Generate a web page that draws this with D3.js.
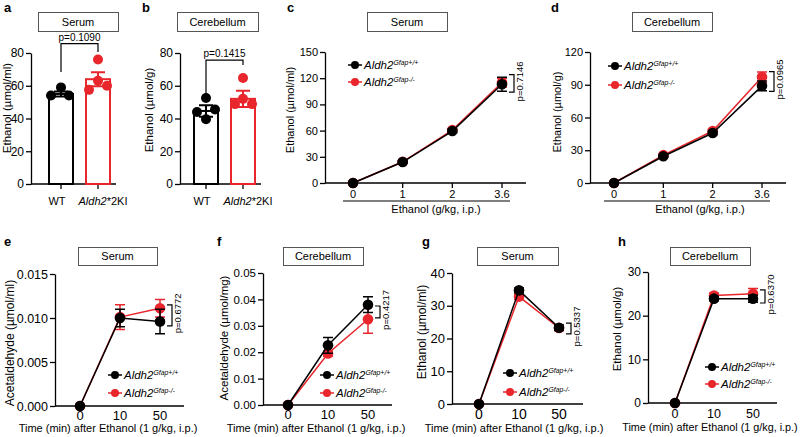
<!DOCTYPE html>
<html>
<head>
<meta charset="utf-8">
<script src="https://cdn.jsdelivr.net/npm/d3@7"></script>
<style>
body { margin: 0; background: #fff; }
svg { font-family: "Liberation Sans", Arial, sans-serif; }
</style>
</head>
<body>
<svg id="fig" width="800" height="437"></svg>
<script>
// ---- data ----
// a, b: bar charts (mean +/- sem, individual animals)
const barGroups = ["WT", "Aldh2*2KI"];
const aMean = [55, 64];
const aSem = [1.5, 4.3];
const aWTDots = [54, 59, 54];
const aKIDots = [76, 63, 57.5, 60];
const aP = "p=0.1090";
const bMean = [44.6, 52];
const bSem = [3.5, 5];
const bWTDots = [52.5, 44, 45.5, 39.5];
const bKIDots = [64.7, 52, 48.8, 48.8];
const bP = "p=0.1415";

// c, d: dose response
const doses = ["0", "1", "2", "3.6"];
const cWT = [0, 24, 59.5, 113];
const cWTSem = [0, 1.2, 2, 8];
const cKO = [0, 24.3, 60.5, 115];
const cKOSem = [0, 1, 2, 5];
const cP = "p=0.7146";
const dWT = [0, 24.5, 45.8, 89];
const dWTSem = [0, 1, 1.5, 4.5];
const dKO = [0, 25.5, 47.6, 97];
const dKOSem = [0, 1, 1.5, 4.6];
const dP = "p=0.0965";

// e-h: time course
const times = ["0", "10", "50"];
const eWT = [0, 0.0100, 0.0096];
const eWTSem = [0, 0.0010, 0.0014];
const eKO = [0, 0.0101, 0.0111];
const eKOSem = [0, 0.0014, 0.0010];
const eP = "p=0.6772";
const fWT = [0, 0.0226, 0.0380];
const fWTSem = [0, 0.0030, 0.0030];
const fKO = [0, 0.0195, 0.0325];
const fKOSem = [0, 0.0010, 0.0053];
const fP = "p=0.4217";
const gWT = [0, 34.7, 23.3];
const gWTSem = [0, 0.7, 0.8];
const gKO = [0, 32.8, 23.2];
const gKOSem = [0, 0.8, 0.8];
const gP = "p=0.5337";
const hWT = [0, 23.9, 23.9];
const hWTSem = [0, 0.5, 0.8];
const hKO = [0, 24.6, 25];
const hKOSem = [0, 0.6, 1.2];
const hP = "p=0.6370";

const RED = "#e8262b";
const svg = d3.select("#fig");

function letter(t, x, y) {
    svg.append("text").attr("x", x).attr("y", y)
        .attr("font-size", 13).attr("font-weight", "bold").text(t);
}

function titleBox(t, x, y, w, h) {
    svg.append("rect").attr("x", x + 0.5).attr("y", y + 0.5)
        .attr("width", w).attr("height", h)
        .attr("fill", "#fff").attr("stroke", "#555").attr("stroke-width", 1);
    svg.append("text").attr("x", x + w / 2).attr("y", y + h / 2 + 4)
        .attr("text-anchor", "middle").attr("font-size", 11).text(t);
}

function yAxis(g, y, x, ticks, fmt, fs) {
    const ax = g.append("g")
        .attr("transform", `translate(${x},0)`)
        .call(d3.axisLeft(y).tickValues(ticks).tickFormat(fmt)
            .tickSize(5).tickSizeOuter(0).tickPadding(2));
    ax.attr("font-family", null).attr("font-size", fs);
    ax.select(".domain").attr("stroke-width", 1.3);
    ax.selectAll(".tick line").attr("stroke-width", 1.3);
    ax.selectAll(".tick text").attr("fill", "#000");
}

function yTitle(g, t, x, y, fs) {
    g.append("text").attr("transform", `translate(${x},${y}) rotate(-90)`)
        .attr("text-anchor", "middle").attr("font-size", fs).text(t);
}

// italic gene name with optional plain suffix / superscript
function geneLabel(sel, sup, suffix, fs) {
    sel.append("tspan").attr("font-style", "italic").text("Aldh2");
    if (suffix) sel.append("tspan").text(suffix);
    if (sup) sel.append("tspan").attr("font-style", "italic")
        .attr("font-size", fs * 0.6).attr("dy", -fs * 0.38).text(sup);
}

// ---------- bar panels ----------
function barPanel(p) {
    const g = svg.append("g");
    const y = d3.scaleLinear().domain([0, p.max]).range(p.yRange);
    const x = d3.scalePoint().domain(barGroups).range(p.xRange);
    const y0 = y(0);

    yAxis(g, y, p.axisX, p.ticks, d3.format("d"), p.fs);
    g.append("line").attr("x1", p.axisX).attr("x2", p.xRange[1] + 18)
        .attr("y1", y0).attr("y2", y0).attr("stroke", "#000").attr("stroke-width", 1.3);
    g.selectAll(".xt").data(barGroups).join("line")
        .attr("x1", d => x(d)).attr("x2", d => x(d))
        .attr("y1", y0).attr("y2", y0 + 5).attr("stroke", "#000").attr("stroke-width", 1.3);

    const colors = ["#000", RED];
    const dots = [p.wtDots, p.kiDots];
    barGroups.forEach(function(grp, i) {
        const cx = x(grp);
        g.append("rect").attr("x", cx - 12).attr("y", y(p.mean[i]))
            .attr("width", 24).attr("height", y0 - y(p.mean[i]))
            .attr("fill", "#fff").attr("stroke", colors[i]).attr("stroke-width", 2);
        const hi = y(p.mean[i] + p.sem[i]), lo = y(p.mean[i] - p.sem[i]);
        g.append("path")
            .attr("d", `M${cx},${lo}V${hi}M${cx - 7},${hi}H${cx + 7}M${cx - 7},${lo}H${cx + 7}`)
            .attr("stroke", colors[i]).attr("stroke-width", 2).attr("fill", "none");
        g.selectAll(null).data(dots[i]).join("circle")
            .attr("cx", (d, j) => cx + p.jitter[i][j]).attr("cy", d => y(d))
            .attr("r", 5).attr("fill", colors[i]);
    });

    // category labels (set slightly apart, as in the original)
    g.append("text").attr("x", x("WT") - 4).attr("y", y0 + 21)
        .attr("text-anchor", "middle").attr("font-size", 11).text("WT");
    const lab = g.append("text").attr("x", x("Aldh2*2KI") + 5).attr("y", y0 + 21)
        .attr("text-anchor", "middle").attr("font-size", 11);
    geneLabel(lab, null, "*2KI", 11);

    // p bracket
    const x1 = x("WT"), x2 = x("Aldh2*2KI"), top = y(p.bracket[0]);
    g.append("path")
        .attr("d", `M${x1},${y(p.bracket[1])}V${top}H${x2}V${y(p.bracket[2])}`)
        .attr("stroke", "#000").attr("stroke-width", 1.2).attr("fill", "none");
    g.append("text").attr("x", (x1 + x2) / 2).attr("y", top - 3)
        .attr("text-anchor", "middle").attr("font-size", 10).text(p.pText);

    yTitle(g, p.ylab, p.ylabX, p.ylabY, 11.5);
}

// ---------- line panels ----------
function linePanel(p) {
    const g = svg.append("g");
    const y = d3.scaleLinear().domain([0, p.max]).range(p.yRange);
    const x = d3.scalePoint().domain(p.cats).range(p.xRange);
    const y0 = y(0);

    yAxis(g, y, p.axisX, p.ticks, p.fmt, p.fs);
    g.append("line").attr("x1", p.axisX).attr("x2", p.xRange[1] + 24)
        .attr("y1", y0).attr("y2", y0).attr("stroke", "#000").attr("stroke-width", 1.3);
    if (p.xTicks) {
        g.selectAll(".xt").data(p.cats).join("line")
            .attr("x1", d => x(d)).attr("x2", d => x(d))
            .attr("y1", y0).attr("y2", y0 + 5).attr("stroke", "#000").attr("stroke-width", 1.3);
    }
    g.selectAll(".xl").data(p.cats).join("text")
        .attr("x", d => x(d)).attr("y", y0 + p.xlabDy)
        .attr("text-anchor", "middle").attr("font-size", p.xfs).text(d => d);

    if (p.underline) {
        g.append("line").attr("x1", p.xRange[0] - 10).attr("x2", p.xRange[1] + 8)
            .attr("y1", y0 + 18).attr("y2", y0 + 18).attr("stroke", "#000").attr("stroke-width", 1.2);
    }
    g.append("text").attr("x", p.xTitleX).attr("y", p.xTitleY)
        .attr("text-anchor", "middle").attr("font-size", p.xtfs || 11).text(p.xTitle);

    const series = [
        {vals: p.ko, sem: p.koSem, color: RED},
        {vals: p.wt, sem: p.wtSem, color: "#000"}
    ];
    const line = d3.line().x((d, i) => x(p.cats[i])).y(d => y(d));
    series.forEach(function(s) {
        s.vals.forEach(function(v, i) {
            if (!s.sem[i]) return;
            const cx = x(p.cats[i]), hi = y(v + s.sem[i]), lo = y(v - s.sem[i]);
            g.append("path")
                .attr("d", `M${cx},${lo}V${hi}M${cx - 5},${hi}H${cx + 5}M${cx - 5},${lo}H${cx + 5}`)
                .attr("stroke", s.color).attr("stroke-width", 1.5).attr("fill", "none");
        });
        g.append("path").datum(s.vals).attr("d", line)
            .attr("stroke", s.color).attr("stroke-width", 1.5).attr("fill", "none");
        g.selectAll(null).data(s.vals).join("circle")
            .attr("cx", (d, i) => x(p.cats[i])).attr("cy", d => y(d))
            .attr("r", 5.3).attr("fill", s.color);
    });

    // p bracket
    const bx = p.xRange[1] + 12, bt = y(p.bracket[1]), bb = y(p.bracket[0]);
    g.append("path").attr("d", `M${bx - 5},${bt}H${bx}V${bb}H${bx - 5}`)
        .attr("stroke", "#000").attr("stroke-width", 1.2).attr("fill", "none");
    g.append("text").attr("transform", `translate(${bx + 9},${(bt + bb) / 2 - 2}) rotate(-90)`)
        .attr("text-anchor", "middle").attr("font-size", 9.5).text(p.pText);

    // legend
    [["#000", "Gfap+/+"], [RED, "Gfap-/-"]].forEach(function(l, i) {
        const lx = p.leg[0], ly = p.leg[1] + i * p.leg[2];
        g.append("line").attr("x1", lx - 7).attr("x2", lx + 7).attr("y1", ly).attr("y2", ly)
            .attr("stroke", l[0]).attr("stroke-width", 1.5);
        g.append("circle").attr("cx", lx).attr("cy", ly).attr("r", 4).attr("fill", l[0]);
        const t = g.append("text").attr("x", lx + 9).attr("y", ly + 4).attr("font-size", 11.5);
        geneLabel(t, l[1], null, 11.5);
    });

    yTitle(g, p.ylab, p.ylabX, p.ylabY, p.ylfs);
}

// ---------- build figure ----------
letter("a", 4, 12); letter("b", 142, 12); letter("c", 287, 12); letter("d", 551, 12);
letter("e", 4, 246); letter("f", 217, 246); letter("g", 422, 246); letter("h", 618, 246);

titleBox("Serum", 38, 12, 80, 19);
titleBox("Cerebellum", 177, 12, 81, 19);
titleBox("Serum", 367, 12, 80, 19);
titleBox("Cerebellum", 632, 12, 80, 19);
titleBox("Serum", 78, 247, 79, 18);
titleBox("Cerebellum", 283, 247, 80, 18);
titleBox("Serum", 477, 247, 81, 18);
titleBox("Cerebellum", 670, 247, 80, 18);

barPanel({mean: aMean, sem: aSem, wtDots: aWTDots, kiDots: aKIDots, pText: aP,
    max: 80, ticks: [0, 20, 40, 60, 80], yRange: [184, 53], xRange: [61, 98], axisX: 31,
    jitter: [[-10, 0, 8], [0, 0, -9, 9]], bracket: [85.7, 68.4, 80.6],
    fs: 12, ylab: "Ethanol (µmol/ml)", ylabX: 11, ylabY: 108});
barPanel({mean: bMean, sem: bSem, wtDots: bWTDots, kiDots: bKIDots, pText: bP,
    max: 80, ticks: [0, 20, 40, 60, 80], yRange: [184, 53], xRange: [206, 243], axisX: 180,
    jitter: [[0, -9, 9, 0], [0, 0, -8, 9]], bracket: [75.7, 55, 72.7],
    fs: 12, ylab: "Ethanol (µmol/g)", ylabX: 153, ylabY: 110});

const fmtInt = d3.format("d");
linePanel({cats: doses, wt: cWT, wtSem: cWTSem, ko: cKO, koSem: cKOSem, pText: cP,
    max: 150, ticks: [0, 30, 60, 90, 120, 150], fmt: fmtInt, yRange: [183, 52],
    xRange: [353, 502], axisX: 325, xTicks: true, underline: true, xlabDy: 15, fs: 11, xfs: 11,
    xTitle: "Ethanol (g/kg, i.p.)", xTitleX: 436, xTitleY: 213, bracket: [104, 124],
    leg: [355, 65, 17], ylab: "Ethanol (µmol/ml)", ylabX: 294, ylabY: 110, ylfs: 11});
linePanel({cats: doses, wt: dWT, wtSem: dWTSem, ko: dKO, koSem: dKOSem, pText: dP,
    max: 120, ticks: [0, 30, 60, 90, 120], fmt: fmtInt, yRange: [183, 52],
    xRange: [614, 762], axisX: 590, xTicks: true, underline: true, xlabDy: 15, fs: 11, xfs: 11,
    xTitle: "Ethanol (g/kg, i.p.)", xTitleX: 700, xTitleY: 213, bracket: [84, 102],
    leg: [615, 66, 19], ylab: "Ethanol (µmol/g)", ylabX: 561, ylabY: 112, ylfs: 11});

const timeTitle = "Time (min) after Ethanol (1 g/kg, i.p.)";
linePanel({cats: times, wt: eWT, wtSem: eWTSem, ko: eKO, koSem: eKOSem, pText: eP,
    max: 0.015, ticks: [0, 0.005, 0.010, 0.015], fmt: d3.format(".3f"), yRange: [406, 274],
    xRange: [80, 160], axisX: 55, xTicks: false, underline: false, xlabDy: 14, fs: 12.5, xfs: 13,
    xTitle: timeTitle, xTitleX: 108, xTitleY: 432, bracket: [0.0091, 0.0115],
    leg: [115, 375, 18], ylab: "Acetaldehyde (µmol/ml)", ylabX: 14, ylabY: 343, ylfs: 12});
linePanel({cats: times, wt: fWT, wtSem: fWTSem, ko: fKO, koSem: fKOSem, pText: fP,
    max: 0.05, ticks: [0, 0.01, 0.02, 0.03, 0.04, 0.05], fmt: d3.format(".2f"), yRange: [405, 273],
    xRange: [288, 368], axisX: 263, xTicks: false, underline: false, xlabDy: 14, fs: 11.5, xfs: 13,
    xTitle: timeTitle, xTitleX: 316, xTitleY: 432, bracket: [0.033, 0.0375],
    leg: [327, 375, 18], ylab: "Acetaldehyde (µmol/mg)", ylabX: 228, ylabY: 338, ylfs: 11.5});
linePanel({cats: times, wt: gWT, wtSem: gWTSem, ko: gKO, koSem: gKOSem, pText: gP,
    max: 40, ticks: [0, 10, 20, 30, 40], fmt: fmtInt, yRange: [404, 273],
    xRange: [479, 559], axisX: 452, xTicks: false, underline: false, xlabDy: 15, fs: 13, xfs: 14,
    xTitle: timeTitle, xTitleX: 514, xTitleY: 432, bracket: [21.4, 24.7],
    leg: [510, 373, 19], ylab: "Ethanol (µmol/ml)", ylabX: 426, ylabY: 332, ylfs: 12});
linePanel({cats: times, wt: hWT, wtSem: hWTSem, ko: hKO, koSem: hKOSem, pText: hP,
    max: 30, ticks: [0, 10, 20, 30], fmt: fmtInt, yRange: [403, 272],
    xRange: [675, 753], axisX: 648, xTicks: false, underline: false, xlabDy: 15, fs: 12, xfs: 12.5,
    xTitle: timeTitle, xTitleX: 710, xTitleY: 431, xtfs: 10.8, bracket: [22.9, 25.9],
    leg: [712, 367, 17], ylab: "Ethanol (µmol/g)", ylabX: 621, ylabY: 329, ylfs: 11.5});
</script>
</body>
</html>
